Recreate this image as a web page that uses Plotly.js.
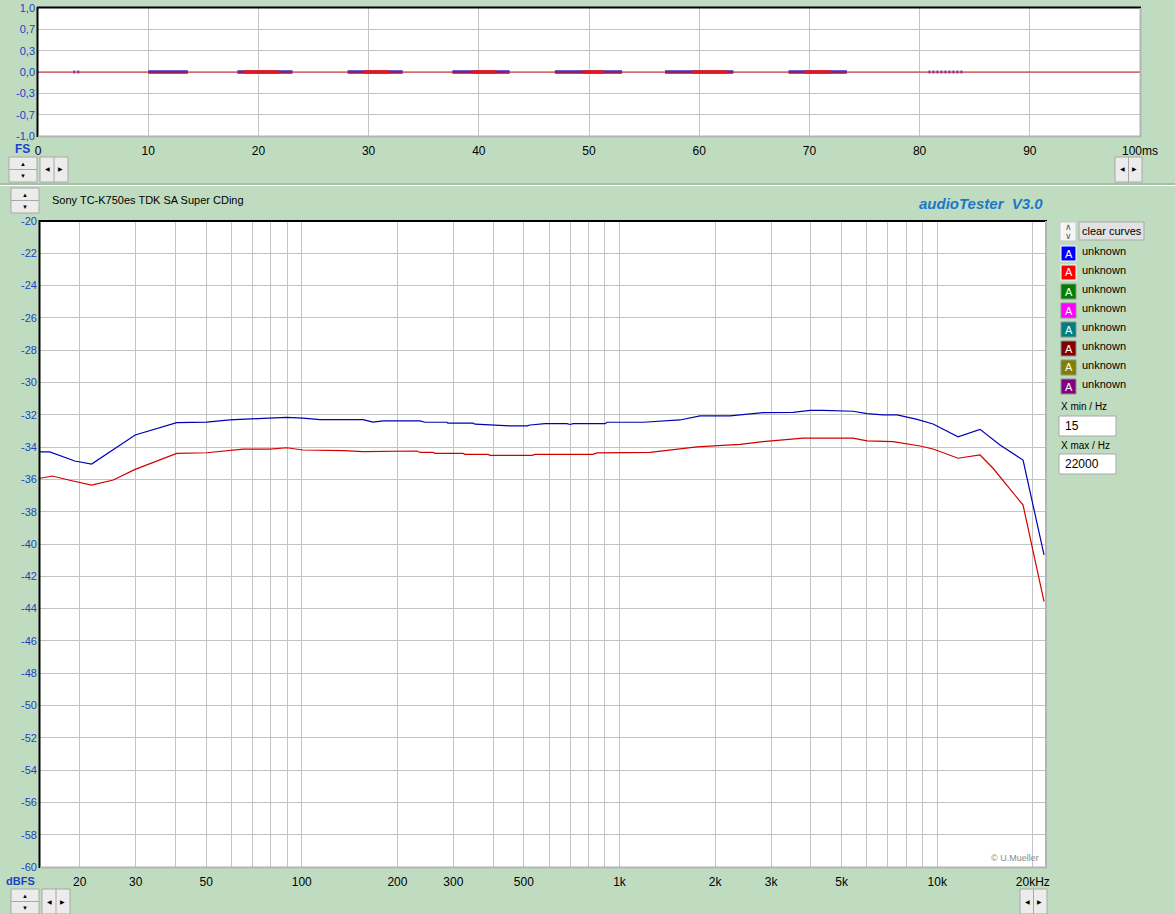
<!DOCTYPE html>
<html>
<head>
<meta charset="utf-8">
<script src="https://cdn.plot.ly/plotly-3.0.1.min.js"></script>
<style>
html,body{margin:0;padding:0;background:#c0dcc0;}
#chart{width:1175px;height:914px;}
</style>
</head>
<body>
<div id="chart"></div>
<script>
// ---------------- DATA ----------------
// Top panel (time domain, ms)
const timeTicksMs = [0,10,20,30,40,50,60,70,80,90,100];
const timeTickLabels = ['0','10','20','30','40','50','60','70','80','90','100ms'];
const ampTickVals = [-1,-2/3,-1/3,0,1/3,2/3,1];
const ampTickLabels = ['-1,0','-0,7','-0,3','0,0','0,3','0,7','1,0'];
const blueBurstStartMs = [10.0, 18.1, 28.1, 37.6, 46.9, 56.9, 68.1];
const blueBurstEndMs   = [13.6, 23.1, 33.1, 42.8, 53.0, 63.1, 73.4];
const sparseBurstStartMs = [3.2, 80.8];
const sparseBurstEndMs   = [3.8, 84.0];
const redBurstStartMs  = [18.6, 29.5, 39.4, 49.4, 59.4, 69.6];
const redBurstEndMs    = [21.8, 31.9, 41.6, 51.3, 62.5, 71.9];
const redBaselineMs = [0, 100];
const redBaselineAmp = [0, 0];

// Bottom panel (frequency response)
const blueHz = [15,16.1,19.3,21.8,29.9,40.4,50.2,59.4,75.5,89.7,100.9,114.1,155.9,167.6,180.2,235.6,244.3,286.6,288,345.9,351,397,452.4,511.7,522.9,583.3,683.9,699,714.4,900.5,913.6,1186,1551,1793,2228,2830,3518,3980,4372,5435,6016,6751,7474,8644,9703,11630,13640,15770,18630,21690];
const blueDb = [-34.3,-34.3,-34.86,-35.05,-33.25,-32.49,-32.45,-32.32,-32.22,-32.16,-32.2,-32.3,-32.3,-32.45,-32.38,-32.38,-32.46,-32.46,-32.52,-32.52,-32.58,-32.63,-32.69,-32.69,-32.63,-32.55,-32.55,-32.6,-32.55,-32.55,-32.46,-32.46,-32.32,-32.07,-32.07,-31.87,-31.85,-31.72,-31.72,-31.78,-31.93,-32.01,-32.01,-32.28,-32.57,-33.36,-32.9,-33.87,-34.8,-40.68];
const redHz = [15,16.4,18.6,21.8,25.5,29.9,40.4,50.2,65.3,79.4,89.7,100.9,134.9,155.9,230.6,235.6,258.9,262.7,321.8,326.5,385.7,391.3,530.5,542.3,825.4,849.7,1248,1754,2395,2830,3782,5435,6016,7261,8831,9703,11630,13640,14990,16590,18630,21690];
const redDb = [-35.93,-35.79,-36.05,-36.35,-36.04,-35.38,-34.39,-34.35,-34.12,-34.12,-34.04,-34.18,-34.22,-34.28,-34.24,-34.33,-34.33,-34.39,-34.39,-34.45,-34.45,-34.51,-34.51,-34.45,-34.45,-34.36,-34.33,-33.98,-33.83,-33.66,-33.45,-33.45,-33.62,-33.66,-33.93,-34.12,-34.69,-34.49,-35.31,-36.35,-37.59,-43.57];
const freqGridHz = [20,30,40,50,60,70,80,90,100,200,300,400,500,600,700,800,900,1000,2000,3000,4000,5000,6000,7000,8000,9000,10000,20000];
const freqTickHz = [20,30,50,100,200,300,500,1000,2000,3000,5000,10000,20000];
const freqTickLabels = ['20','30','50','100','200','300','500','1k','2k','3k','5k','10k','20kHz'];
const dbTickVals = [-60,-58,-56,-54,-52,-50,-48,-46,-44,-42,-40,-38,-36,-34,-32,-30,-28,-26,-24,-22,-20];
const legendNames = ['unknown','unknown','unknown','unknown','unknown','unknown','unknown','unknown'];
const legendColors = ['#0000ff','#ff0000','#008000','#ff00ff','#008080','#800000','#808000','#800080'];

// ---------------- BUILD ----------------
const W = 1175, H = 914;
const X = p => p / W;
const Y = p => 1 - p / H;

function segs(starts, ends){
  const xs = [], ys = [];
  for (let i = 0; i < starts.length; i++){ xs.push(starts[i], ends[i], null); ys.push(0, 0, null); }
  return {xs, ys};
}
const bb = segs(blueBurstStartMs, blueBurstEndMs);
const sb = segs(sparseBurstStartMs, sparseBurstEndMs);
const rb = segs(redBurstStartMs, redBurstEndMs);

const freqTickText = freqGridHz.map(f => { const k = freqTickHz.indexOf(f); return k >= 0 ? freqTickLabels[k] : ''; });

const traces = [
  {x: bb.xs, y: bb.ys, xaxis:'x', yaxis:'y', mode:'lines', line:{color:'#4a24b4', width:3.5}, hoverinfo:'skip', showlegend:false},
  {x: sb.xs, y: sb.ys, xaxis:'x', yaxis:'y', mode:'lines', line:{color:'#6a4ac4', width:3, dash:'2px,2px'}, hoverinfo:'skip', showlegend:false},
  {x: rb.xs, y: rb.ys, xaxis:'x', yaxis:'y', mode:'lines', line:{color:'#f01818', width:3.5}, hoverinfo:'skip', showlegend:false},
  {x: redBaselineMs, y: redBaselineAmp, xaxis:'x', yaxis:'y', mode:'lines', line:{color:'#d81818', width:1.2}, showlegend:false},
  {x: blueHz, y: blueDb, xaxis:'x2', yaxis:'y2', mode:'lines', line:{color:'#0000b4', width:1.2}, name:'unknown', showlegend:false},
  {x: redHz, y: redDb, xaxis:'x2', yaxis:'y2', mode:'lines', line:{color:'#d00000', width:1.2}, name:'unknown', showlegend:false}
];

const FONT = 'Liberation Sans, Arial, sans-serif';
const BLUE_LBL = '#1d3fc4';

const shapes = [];
const ann = [];
function line(x0,y0,x1,y1,color,w){ shapes.push({type:'line', xref:'paper', yref:'paper', x0:X(x0), y0:Y(y0), x1:X(x1), y1:Y(y1), line:{color:color, width:w}, layer:'above'}); }
function rect(x0,y0,x1,y1,fill,lc,lw){ shapes.push({type:'rect', xref:'paper', yref:'paper', x0:X(x0), y0:Y(y0), x1:X(x1), y1:Y(y1), fillcolor:fill, line:{color:lc, width:lw||1}, layer:'above'}); }
function text(x,y,t,opt){ opt = opt||{}; ann.push({xref:'paper', yref:'paper', x:X(x), y:Y(y), text:t, showarrow:false, xanchor:opt.xa||'center', yanchor:'middle', font:{family:opt.family||FONT, size:opt.size||11, color:opt.color||'#000'}}); }

// plot frames
line(37, 7.5, 1141, 7.5, '#000', 2);
line(37.5, 7, 37.5, 137, '#000', 2);
line(1140.5, 8, 1140.5, 137, '#b4b4b4', 2);
line(38, 136.5, 1141, 136.5, '#b4b4b4', 2);
line(39, 221, 1047, 221, '#000', 2);
line(39.5, 220, 39.5, 868, '#000', 2);
line(1046, 221, 1046, 868, '#b4b4b4', 2);
line(40, 867.5, 1047, 867.5, '#b4b4b4', 2);
// separator
line(0, 184, 1175, 184, '#9a9a9a', 1);
line(0, 185.5, 1175, 185.5, '#ffffff', 1);

// spinner buttons
function upDown(x0,y0,x1,y1){
  rect(x0,y0,x1,y1,'#ececec','#a8a8a8',1);
  line(x0,(y0+y1)/2,x1,(y0+y1)/2,'#a8a8a8',1);
  text((x0+x1)/2, y0+(y1-y0)*0.27, '▲', {size:6});
  text((x0+x1)/2, y0+(y1-y0)*0.75, '▼', {size:6});
}
function leftRight(x0,y0,x1,y1){
  rect(x0,y0,x1,y1,'#ececec','#a8a8a8',1);
  line((x0+x1)/2,y0,(x0+x1)/2,y1,'#a8a8a8',1);
  text(x0+(x1-x0)*0.27, (y0+y1)/2, '◀', {size:6});
  text(x0+(x1-x0)*0.73, (y0+y1)/2, '▶', {size:6});
}
upDown(9,157,37,182);
leftRight(40,157,68,182);
leftRight(1115,157,1142,182);
upDown(11,188,39,213);
upDown(11,889,39,914);
leftRight(42,889,70,914);
leftRight(1020,889,1047,914);

// labels
text(50, 200, 'Sony TC-K750es TDK SA Super CDing', {xa:'left', size:11});
text(1045, 204, '<b><i>audioTester\u00a0 V3.0</i></b>', {xa:'right', size:15, color:'#1a78c8'});
text(32, 149, '<b>FS</b>', {xa:'right', size:12, color:BLUE_LBL});
text(20, 881, '<b>dBFS</b>', {size:11, color:BLUE_LBL});
text(1041, 858, '© U.Mueller', {xa:'right', size:9, color:'#8a8a8a'});

// right panel
rect(1060,222,1076,241,'#f6f6f6','#c8c8c8',1);
text(1068, 227, '∧', {size:9, color:'#555'});
text(1068, 236, '∨', {size:9, color:'#555'});
rect(1079,222,1144,240,'#e2e2e2','#a8a8a8',1);
text(1111.5, 231, 'clear curves', {size:11});
for (let i = 0; i < legendNames.length; i++){
  const y0 = 246 + 19*i;
  rect(1061, y0, 1076, y0+15, legendColors[i], i < 2 ? '#ffffff' : '#909090', 1);
  text(1068.5, y0+7.5, 'A', {size:11, color:'#fff'});
  text(1080, y0+5, legendNames[i], {xa:'left', size:11});
}
text(1059, 407, 'X min / Hz', {xa:'left', size:10});
rect(1059,416,1116,436,'#ffffff','#a8a8a8',1);
text(1063, 426, '15', {xa:'left', size:12});
text(1059, 446, 'X max / Hz', {xa:'left', size:10});
rect(1059,454,1116,474,'#ffffff','#a8a8a8',1);
text(1063, 464, '22000', {xa:'left', size:12});

const layout = {
  width: W, height: H,
  margin: {l:0, r:0, t:0, b:0, pad:0},
  paper_bgcolor: '#c0dcc0',
  plot_bgcolor: '#ffffff',
  showlegend: false,
  font: {family: FONT, size: 12, color: '#000'},
  xaxis: {
    domain: [X(38), X(1140)], range: [0, 100], anchor: 'y',
    tickmode: 'array', tickvals: timeTicksMs, ticktext: timeTickLabels,
    showgrid: true, gridcolor: '#c4c4c4', gridwidth: 1, zeroline: false, showline: false,
    ticks: '', ticklabelstandoff: 6, tickfont: {family: FONT, size: 12, color: '#000'}, fixedrange: true
  },
  yaxis: {
    domain: [Y(136), Y(8)], range: [-1, 1], anchor: 'x',
    tickmode: 'array', tickvals: ampTickVals, ticktext: ampTickLabels,
    showgrid: true, gridcolor: '#c4c4c4', gridwidth: 1, zeroline: false, showline: false,
    ticks: '', ticklabelstandoff: 2, tickfont: {family: FONT, size: 11, color: BLUE_LBL}, fixedrange: true
  },
  xaxis2: {
    type: 'log', domain: [X(40), X(1046)], range: [Math.log10(15), Math.log10(22000)], anchor: 'y2',
    tickmode: 'array', tickvals: freqGridHz, ticktext: freqTickText,
    showgrid: true, gridcolor: '#c4c4c4', gridwidth: 1, zeroline: false, showline: false,
    ticks: '', ticklabelstandoff: 6, tickfont: {family: FONT, size: 12, color: '#000'}, fixedrange: true
  },
  yaxis2: {
    domain: [Y(867), Y(221)], range: [-60, -20], anchor: 'x2',
    tickmode: 'array', tickvals: dbTickVals, ticktext: dbTickVals.map(v => String(v)),
    showgrid: true, gridcolor: '#c4c4c4', gridwidth: 1, zeroline: false, showline: false,
    ticks: '', ticklabelstandoff: 2, tickfont: {family: FONT, size: 11, color: BLUE_LBL}, fixedrange: true
  },
  shapes: shapes,
  annotations: ann
};

Plotly.newPlot('chart', traces, layout, {displayModeBar: false, staticPlot: true});
</script>
</body>
</html>
